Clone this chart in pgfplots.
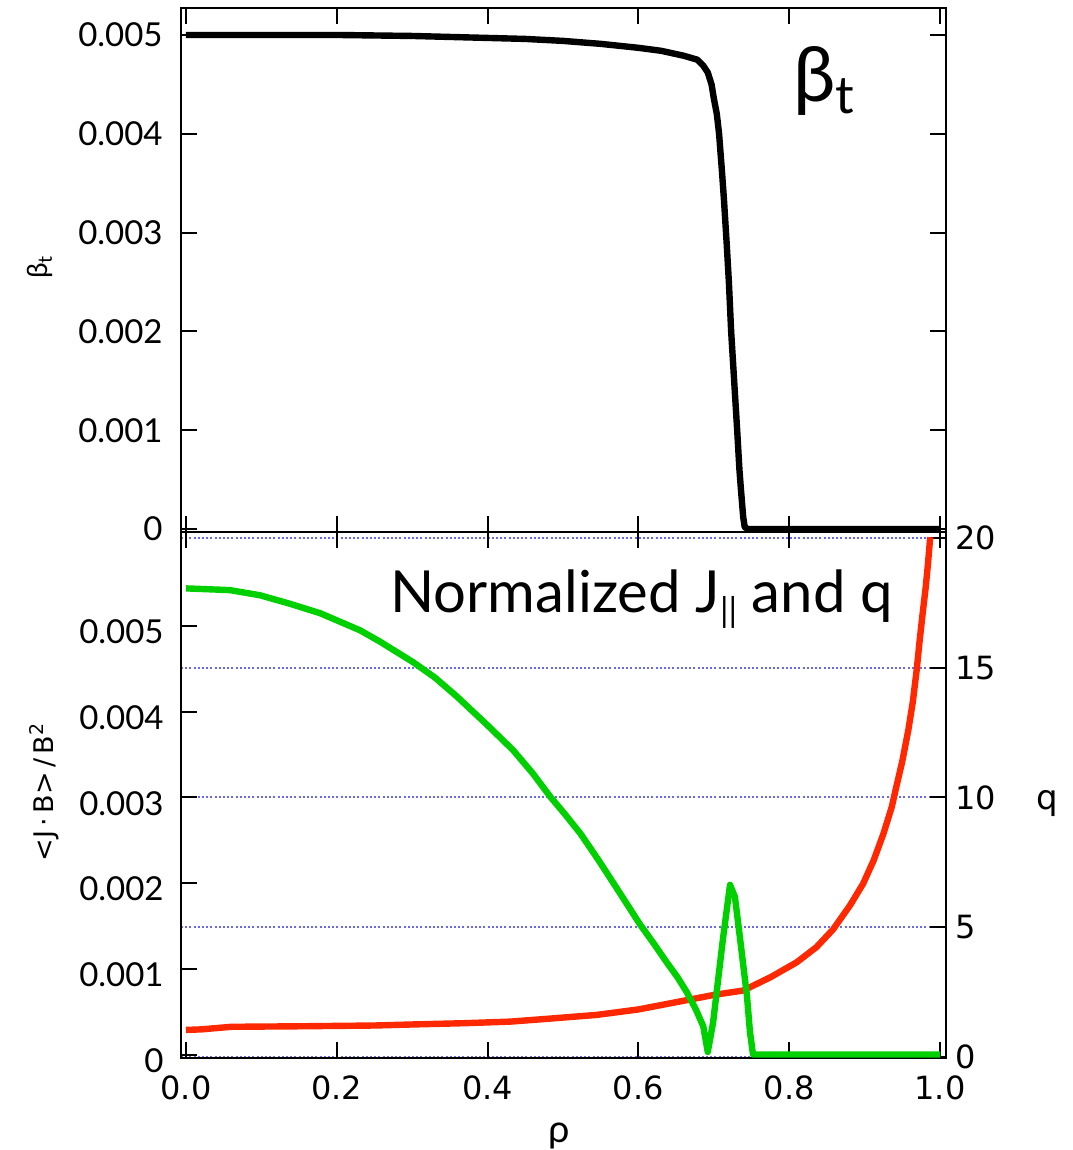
\documentclass[border=0pt]{standalone}
\usepackage{fontspec}
\setmainfont{Lato}
\newfontfamily\dejavu{DejaVu Sans}
\usepackage{pgfplots}
\pgfplotsset{compat=1.18}
\definecolor{jgreen}{RGB}{0,208,0}
\definecolor{qred}{RGB}{255,40,0}
\definecolor{gridblue}{RGB}{105,105,240}
\pgfplotsset{
  base/.style={
    scale only axis, width=382.5pt,
    xmin=-0.00663, xmax=1.00796,
    axis line style={line width=1pt, black},
    major tick style={line width=1pt, black},
    major tick length=8pt, tick align=inside,
    xtick={0,0.2,0.4,0.6,0.8,1.0},
    /pgf/number format/assume math mode=true,
    scaled y ticks=false, scaled x ticks=false,
  },
}
\begin{document}
\begin{tikzpicture}
\useasboundingbox (0,0) rectangle (536pt,-575pt);

% ---------------- top panel: beta_t ----------------
\begin{axis}[base, at={(90.5pt,-266pt)}, anchor=south west, height=262pt,
  ymin=-0.00003, ymax=0.005273,
  ytick={0,0.001,0.002,0.003,0.004,0.005},
  xtick pos=both, ytick pos=both, xticklabels={},
  yticklabel style={font=\fontsize{16.5}{18}\selectfont, inner sep=0pt, xshift=-9pt,
    /pgf/number format/.cd, fixed, precision=3},
]
\addplot[black, line width=3.2pt, line join=round] coordinates {
(0,0.005) (0.1,0.005) (0.2,0.005) (0.3,0.00499) (0.35,0.00498) (0.4,0.00497)
(0.45,0.00496) (0.5,0.00494) (0.55,0.00491) (0.6,0.00487) (0.63,0.00484)
(0.66,0.00479) (0.678,0.00475) (0.686,0.00469) (0.692,0.00462) (0.697,0.0045)
(0.700,0.00436) (0.704,0.0042) (0.707,0.004) (0.711,0.0036) (0.7135,0.00333)
(0.717,0.0029) (0.720,0.0025) (0.723,0.002) (0.727,0.0015) (0.731,0.001)
(0.734,0.0006) (0.736,0.0004) (0.739,0.00012) (0.741,0.00002) (0.745,0) (1.0,0)
};
\end{axis}

% ---------------- bottom panel: q (right axis, grid) ----------------
\begin{axis}[base, at={(90.5pt,-529pt)}, anchor=south west, height=263pt,
  ymin=-0.054, ymax=20.24,
  axis y line*=right, axis x line=none,
  ytick={0,5,10,15,20},
  ymajorgrids, grid style={gridblue, line width=1pt, dash pattern=on 1pt off 1.1pt},
  yticklabel style={font=\dejavu\fontsize{16}{18}\selectfont, inner sep=0pt, xshift=4.5pt},
]
\addplot[qred, line width=3.2pt, line join=round] coordinates {
(0,1.03) (0.02,1.05) (0.06,1.15) (0.15,1.17) (0.25,1.2) (0.3,1.24) (0.37,1.29)
(0.43,1.35) (0.48,1.46) (0.545,1.61) (0.60,1.82) (0.668,2.2) (0.70,2.38)
(0.739,2.55) (0.775,3.06) (0.81,3.64) (0.836,4.22) (0.858,4.9) (0.881,5.85)
(0.898,6.67) (0.912,7.57) (0.925,8.6) (0.936,9.63) (0.942,10.4) (0.95,11.4)
(0.958,12.6) (0.964,13.7) (0.969,14.9) (0.973,16.05) (0.977,17.1) (0.981,18.1)
(0.984,19.0) (0.987,20.04)
};
\end{axis}

% ---------------- bottom panel: <J.B>/B^2 ----------------
\begin{axis}[base, at={(90.5pt,-529pt)}, anchor=south west, height=263pt,
  ymin=-0.000041, ymax=0.006098,
  ytick={0,0.001,0.002,0.003,0.004,0.005},
  xtick pos=both, ytick pos=left,
  yticklabel style={font=\fontsize{16.5}{18}\selectfont, inner sep=0pt, xshift=-8.5pt, yshift=-3pt,
    /pgf/number format/.cd, fixed, precision=3},
  xticklabel style={font=\dejavu\fontsize{16}{18}\selectfont, inner sep=0pt, yshift=-8.5pt,
    /pgf/number format/.cd, fixed, fixed zerofill, precision=1},
]
\addplot[jgreen, line width=3.2pt, line join=round] coordinates {
(0,0.00544) (0.058,0.00542) (0.098,0.00536) (0.138,0.00526) (0.178,0.00515)
(0.231,0.00495) (0.257,0.00482) (0.301,0.00458) (0.33,0.0044) (0.359,0.00418)
(0.399,0.00385) (0.434,0.00355) (0.46,0.00328) (0.483,0.00301) (0.503,0.0028)
(0.523,0.00258) (0.547,0.00227) (0.575,0.00189) (0.602,0.00152) (0.62,0.0013)
(0.638,0.00107) (0.652,0.0009) (0.664,0.00073) (0.676,0.00053) (0.686,0.00033)
(0.692,0.00003) (0.699,0.00037) (0.712,0.00134) (0.7215,0.00198) (0.728,0.00184)
(0.735,0.00134) (0.744,0.00068) (0.748,0.00026) (0.752,0) (1.0,0)
};
\end{axis}

% ---------------- labels ----------------
\node[rotate=90, font=\fontsize{14}{16}\selectfont] at (20pt,-133.5pt) {β\textsubscript{t}};
\node[rotate=90, font=\dejavu\fontsize{13.5}{16}\selectfont] at (22pt,-396pt) {<J\,·\,B>\,/\,B\textsuperscript{2}};
\node[font=\fontsize{19}{21}\selectfont] at (279.5pt,-568pt) {ρ};
\node[font=\dejavu\fontsize{17}{19}\selectfont] at (523.5pt,-401.75pt) {q};
\node[anchor=base west, inner sep=0pt, font=\fontsize{38}{44}\selectfont] at (396.5pt,-51pt)
  {β\raisebox{-0.15em}{\fontsize{26}{26}\selectfont t}};
\node[anchor=base west, inner sep=0pt, font=\fontsize{29}{33}\selectfont] at (195pt,-306pt)
  {Normalized J\raisebox{-5pt}{\fontsize{17}{17}\selectfont ||} and q};
\end{tikzpicture}
\end{document}
